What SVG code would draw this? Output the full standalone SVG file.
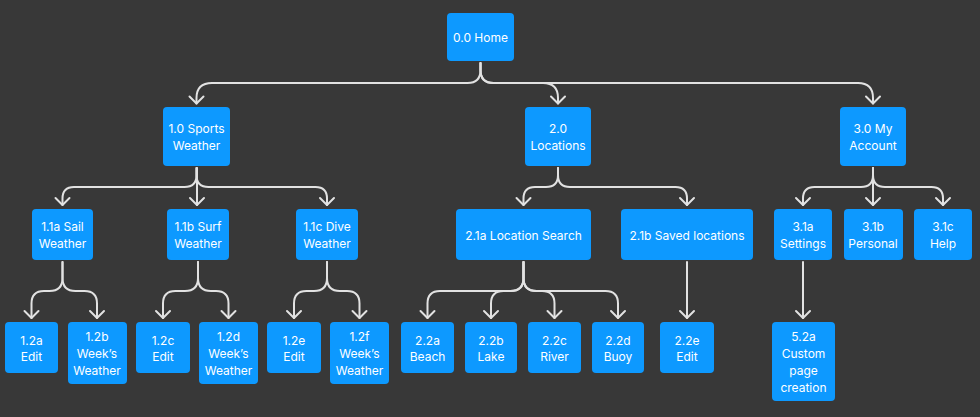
<svg xmlns="http://www.w3.org/2000/svg" width="980" height="417" viewBox="0 0 980 417">
<style>
.n{fill:#0D99FF}
.t{font-family:Inter,"Noto Sans",sans-serif;font-size:12px;fill:#ffffff;text-anchor:middle;dominant-baseline:central}
.c{fill:none;stroke:#e2e2e2;stroke-width:2;stroke-linecap:round;stroke-linejoin:round}
</style>
<defs>
<marker id="ah" markerUnits="userSpaceOnUse" markerWidth="20" markerHeight="20" refX="0" refY="0" viewBox="-10 -10 20 20" orient="auto" overflow="visible">
<path d="M-7,-7 L0,0 L-7,7" fill="none" stroke="#e2e2e2" stroke-width="2" stroke-linecap="round" stroke-linejoin="round"/>
</marker>
</defs>
<rect width="980" height="417" fill="#383838"/>
<g id="connectors" class="c" marker-end="url(#ah)">
<path d="M480.5 63 V70 Q480.5 83 467.5 83 H212 Q196.5 83 196.5 98 V103.5"/>
<path d="M480.5 63 V70 Q480.5 83 493.5 83 H543 Q558 83 558 98 V103.5"/>
<path d="M480.5 63 V70 Q480.5 83 493.5 83 H858 Q873 83 873 98 V103.5"/>
<path d="M196.5 168 V175 Q196.5 187 184.5 187 H74 Q62.5 187 62.5 198.5 V205"/>
<path d="M197 168 V205"/>
<path d="M196.5 168 V175 Q196.5 187 208.5 187 H315.5 Q327 187 327 198.5 V205"/>
<path d="M558 168 V175 Q558 187 546 187 H535 Q523.5 187 523.5 198.5 V205"/>
<path d="M558 168 V175 Q558 187 570 187 H675.5 Q687 187 687 198.5 V205"/>
<path d="M873 168 V175 Q873 187 861 187 H814.5 Q803 187 803 198.5 V205"/>
<path d="M873 168 V205"/>
<path d="M873 168 V175 Q873 187 885 187 H931.5 Q943 187 943 198.5 V205"/>
<path d="M62.5 262 V278 Q62.5 291 49.5 291 H44 Q31.5 291 31.5 303.5 V318"/>
<path d="M62.5 262 V278 Q62.5 291 75.5 291 H84.5 Q97 291 97 303.5 V318"/>
<path d="M198 262 V278 Q198 291 185 291 H175.5 Q163 291 163 303.5 V318"/>
<path d="M198 262 V278 Q198 291 211 291 H216 Q228.5 291 228.5 303.5 V318"/>
<path d="M327 262 V278 Q327 291 314 291 H306.5 Q294 291 294 303.5 V318"/>
<path d="M327 262 V278 Q327 291 340 291 H347 Q359.5 291 359.5 303.5 V318"/>
<path d="M523.5 262 V278 Q523.5 291 510.5 291 H440 Q427.5 291 427.5 303.5 V318"/>
<path d="M523.5 262 V278 Q523.5 291 510.5 291 H503.5 Q491 291 491 303.5 V318"/>
<path d="M523.5 262 V278 Q523.5 291 536.5 291 H542 Q554.5 291 554.5 303.5 V318"/>
<path d="M523.5 262 V278 Q523.5 291 536.5 291 H605.5 Q618 291 618 303.5 V318"/>
<path d="M687 262 V318"/>
<path d="M803 262 V318"/>
</g>
<g id="n00"><rect class="n" x="447" y="13" width="67" height="48" rx="4"/><text class="t" x="480.5" y="37.5">0.0 Home</text></g>
<g id="n10"><rect class="n" x="163" y="107" width="67" height="59" rx="4"/><text class="t" x="196.5" y="128.5">1.0 Sports</text><text class="t" x="196.5" y="145.5">Weather</text></g>
<g id="n20"><rect class="n" x="525" y="107" width="66" height="59" rx="4"/><text class="t" x="558" y="128.5">2.0</text><text class="t" x="558" y="145.5">Locations</text></g>
<g id="n30"><rect class="n" x="840" y="107" width="66" height="59" rx="4"/><text class="t" x="873" y="128.5">3.0 My</text><text class="t" x="873" y="145.5">Account</text></g>
<g id="n11a"><rect class="n" x="32" y="209" width="61" height="51" rx="4"/><text class="t" x="62.5" y="226.5">1.1a Sail</text><text class="t" x="62.5" y="243.5">Weather</text></g>
<g id="n11b"><rect class="n" x="167" y="209" width="62" height="51" rx="4"/><text class="t" x="198" y="226.5">1.1b Surf</text><text class="t" x="198" y="243.5">Weather</text></g>
<g id="n11c"><rect class="n" x="296" y="209" width="62" height="51" rx="4"/><text class="t" x="327" y="226.5">1.1c Dive</text><text class="t" x="327" y="243.5">Weather</text></g>
<g id="n21a"><rect class="n" x="456" y="209" width="135" height="51" rx="4"/><text class="t" x="523.5" y="235">2.1a Location Search</text></g>
<g id="n21b"><rect class="n" x="621" y="209" width="132" height="51" rx="4"/><text class="t" x="687" y="235">2.1b Saved locations</text></g>
<g id="n31a"><rect class="n" x="774" y="209" width="58" height="51" rx="4"/><text class="t" x="803" y="226.5">3.1a</text><text class="t" x="803" y="243.5">Settings</text></g>
<g id="n31b"><rect class="n" x="844" y="209" width="59" height="51" rx="4"/><text class="t" x="873" y="226.5">3.1b</text><text class="t" x="873" y="243.5">Personal</text></g>
<g id="n31c"><rect class="n" x="914" y="209" width="58" height="51" rx="4"/><text class="t" x="943" y="226.5">3.1c</text><text class="t" x="943" y="243.5">Help</text></g>
<g id="n12a"><rect class="n" x="5" y="322" width="53" height="51" rx="4"/><text class="t" x="31.5" y="340">1.2a</text><text class="t" x="31.5" y="356.5">Edit</text></g>
<g id="n12b"><rect class="n" x="68" y="322" width="59" height="62" rx="4"/><text class="t" x="97" y="336.5">1.2b</text><text class="t" x="97" y="353.5">Week’s</text><text class="t" x="97" y="370.5">Weather</text></g>
<g id="n12c"><rect class="n" x="136" y="322" width="54" height="51" rx="4"/><text class="t" x="163" y="340">1.2c</text><text class="t" x="163" y="356.5">Edit</text></g>
<g id="n12d"><rect class="n" x="199" y="322" width="59" height="62" rx="4"/><text class="t" x="228.5" y="336.5">1.2d</text><text class="t" x="228.5" y="353.5">Week’s</text><text class="t" x="228.5" y="370.5">Weather</text></g>
<g id="n12e"><rect class="n" x="267" y="322" width="54" height="51" rx="4"/><text class="t" x="294" y="340">1.2e</text><text class="t" x="294" y="356.5">Edit</text></g>
<g id="n12f"><rect class="n" x="330" y="322" width="59" height="62" rx="4"/><text class="t" x="359.5" y="336.5">1.2f</text><text class="t" x="359.5" y="353.5">Week’s</text><text class="t" x="359.5" y="370.5">Weather</text></g>
<g id="n22a"><rect class="n" x="401" y="322" width="53" height="51" rx="4"/><text class="t" x="427.5" y="340">2.2a</text><text class="t" x="427.5" y="356.5">Beach</text></g>
<g id="n22b"><rect class="n" x="465" y="322" width="52" height="51" rx="4"/><text class="t" x="491" y="340">2.2b</text><text class="t" x="491" y="356.5">Lake</text></g>
<g id="n22c"><rect class="n" x="528" y="322" width="53" height="51" rx="4"/><text class="t" x="554.5" y="340">2.2c</text><text class="t" x="554.5" y="356.5">River</text></g>
<g id="n22d"><rect class="n" x="592" y="322" width="52" height="51" rx="4"/><text class="t" x="618" y="340">2.2d</text><text class="t" x="618" y="356.5">Buoy</text></g>
<g id="n22e"><rect class="n" x="660" y="322" width="54" height="51" rx="4"/><text class="t" x="687" y="340">2.2e</text><text class="t" x="687" y="356.5">Edit</text></g>
<g id="n52a"><rect class="n" x="772" y="322" width="63" height="79" rx="4"/><text class="t" x="803.5" y="336.5">5.2a</text><text class="t" x="803.5" y="353.5">Custom</text><text class="t" x="803.5" y="370.5">page</text><text class="t" x="803.5" y="387.5">creation</text></g>
</svg>
